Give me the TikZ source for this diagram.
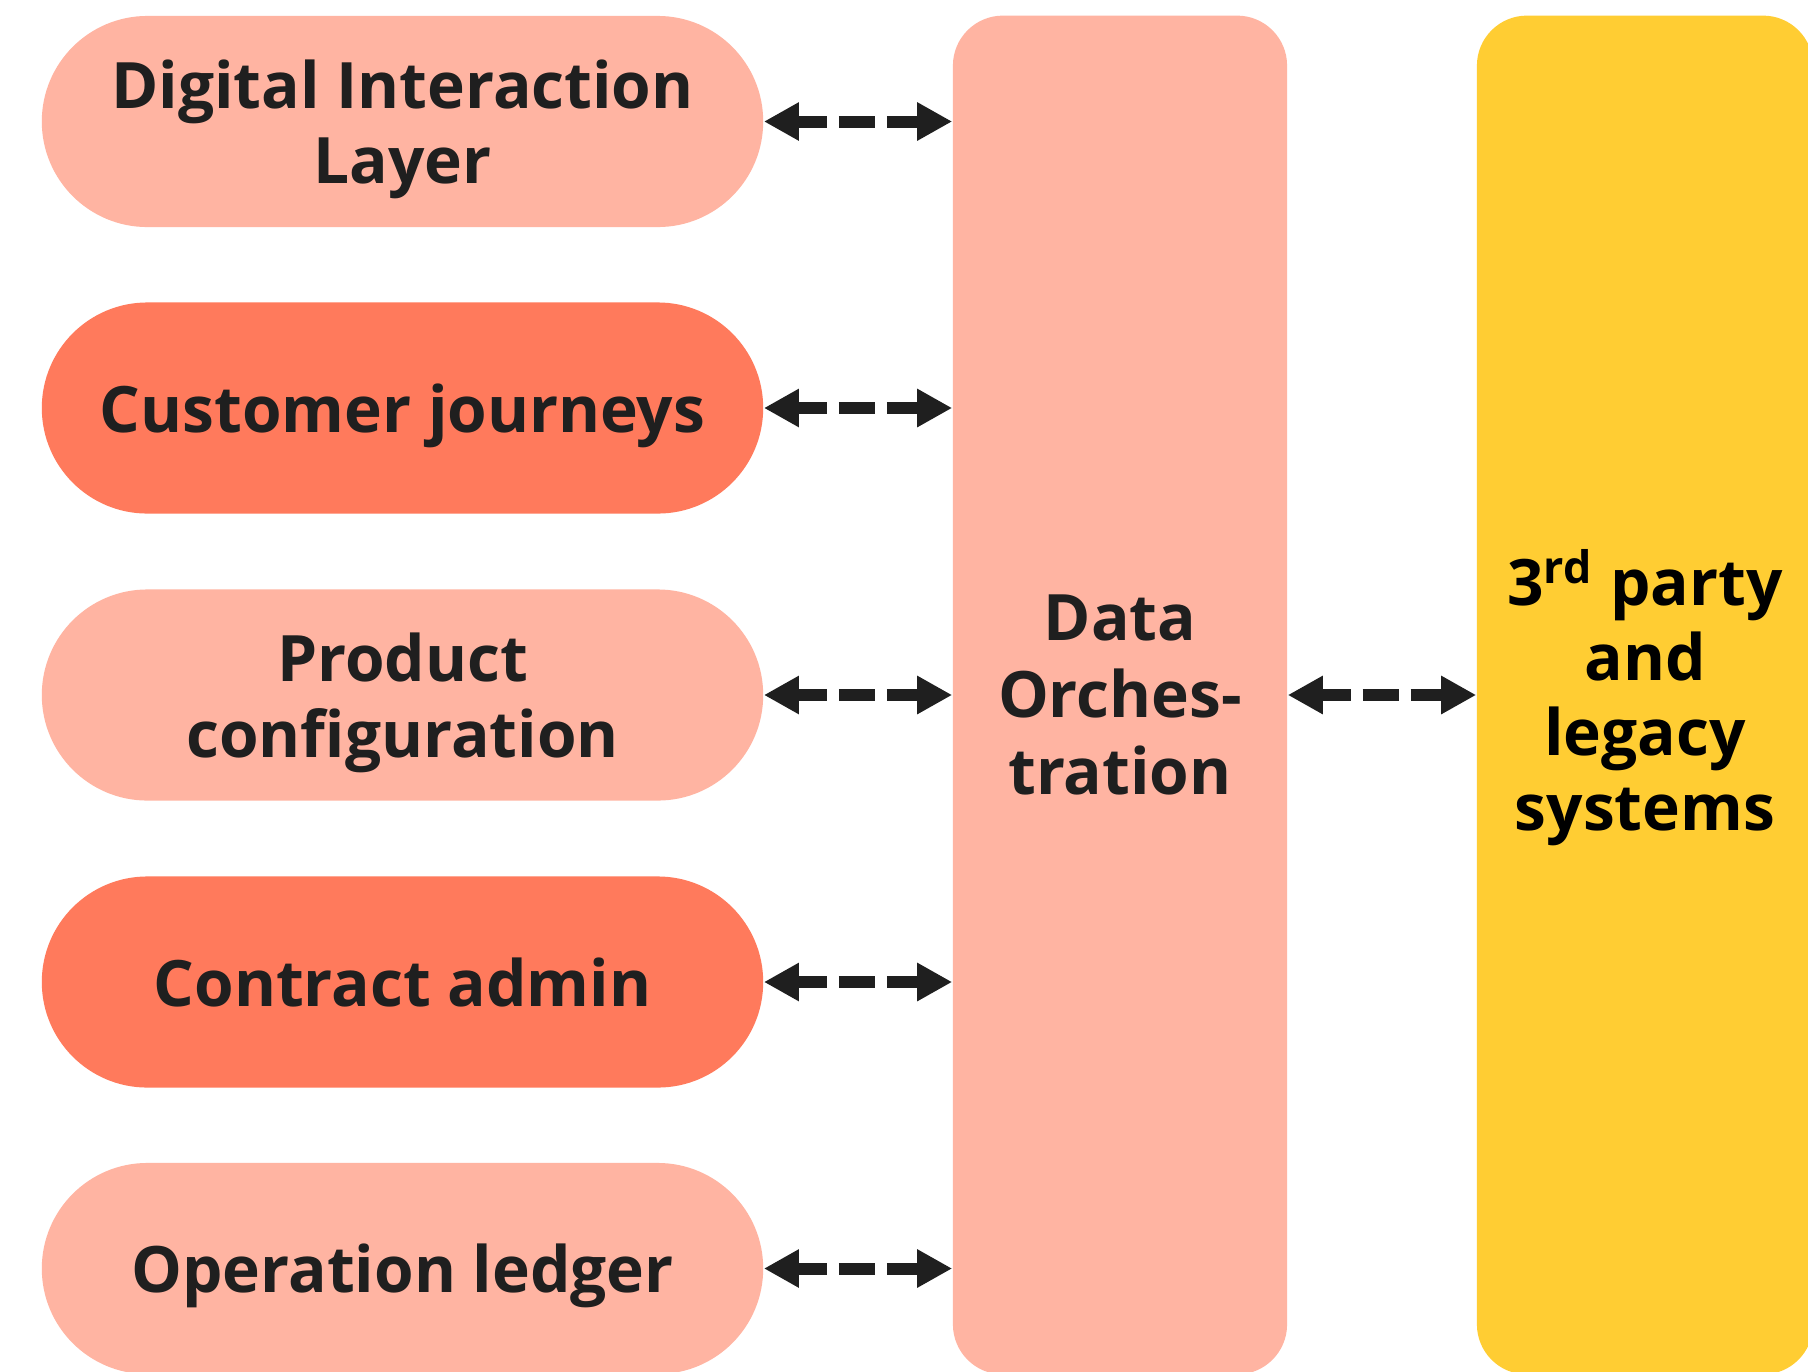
\documentclass[tikz,border=0pt]{standalone}
\usepackage{xcolor}
\usepackage{fontspec}
\setmainfont{Open Sans}
\usepackage{tikz}
\usetikzlibrary{positioning,arrows.meta}
\definecolor{SalmonLight}{HTML}{FFB4A2}
\definecolor{CoralDark}{HTML}{FF7A5C}
\definecolor{LegacyYellow}{HTML}{FFCD33}
\definecolor{InkGray}{HTML}{1F1F1F}
\tikzset{
  layerpill/.style={fill=SalmonLight,rounded corners=1.055cm,
    minimum width=7.21cm,minimum height=2.11cm,
    font=\fontsize{18.2}{21.5}\selectfont\bfseries\color{InkGray},
    align=center,inner sep=0pt,text depth=0pt},
  journeypill/.style={layerpill,fill=CoralDark},
  orchbox/.style={fill=SalmonLight,rounded corners=0.5cm,
    minimum width=3.34cm,minimum height=13.58cm,
    font=\fontsize{18.2}{21.9}\selectfont\bfseries\color{InkGray},
    align=center,inner sep=0pt,text depth=0pt},
  legacybox/.style={orchbox,fill=LegacyYellow,minimum width=3.36cm,
    font=\fontsize{18.2}{21.3}\selectfont\bfseries\color{black}},
  linkarrow/.style={line width=0.12cm,draw=InkGray,
    {Triangle[length=0.35cm,width=0.36cm]}-{Triangle[length=0.35cm,width=0.36cm]},
    dash pattern=on 0.36cm off 0.12cm,dash phase=0.06cm},
}
\begin{document}
\begin{tikzpicture}[x=0.01cm,y=-0.01cm]
  \clip (0,0) rectangle (1808,1372);
  \fill[white] (0,0) rectangle (1808,1372);
  \node[layerpill]   (dil) at (402.5, 121.5) {Digital Interaction\\Layer};
  \node[journeypill] (cj)  at (402.5, 408)   {Customer journeys};
  \node[layerpill]   (pc)  at (402.5, 695)   {Product\\configuration};
  \node[journeypill] (ca)  at (402.5, 982)   {Contract admin};
  \node[layerpill]   (ol)  at (402.5, 1268.5){Operation ledger};
  \node[orchbox]   (orch)   at (1120, 695) {Data\\Orches-\\tration};
  \node[legacybox] (legacy) at (1645, 695) {3\smash{\textsuperscript{rd}} party\\and\\legacy\\systems};
  \draw[linkarrow] (dil.east) -- (dil.east -| orch.west);
  \draw[linkarrow] (cj.east) -- (cj.east -| orch.west);
  \draw[linkarrow] (pc.east) -- (pc.east -| orch.west);
  \draw[linkarrow] (ca.east) -- (ca.east -| orch.west);
  \draw[linkarrow] (ol.east) -- (ol.east -| orch.west);
  \draw[linkarrow] (orch.east) -- (legacy.west);
\end{tikzpicture}
\end{document}
